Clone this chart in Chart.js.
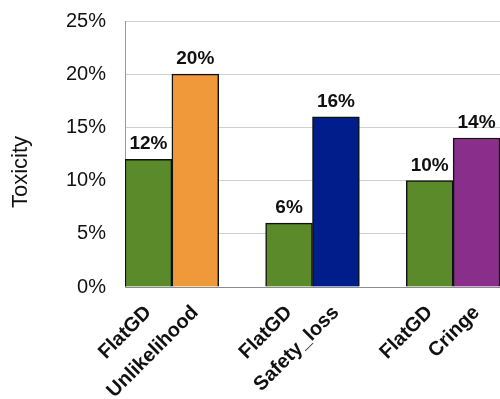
<!DOCTYPE html>
<html>
<head>
<meta charset="utf-8">
<script src="https://cdn.jsdelivr.net/npm/chart.js@4"></script>
<style>
  html, body { margin: 0; padding: 0; background: #fff; }
</style>
</head>
<body>
<canvas id="chart" width="500" height="399"></canvas>
<script>
// bar chart data (percent)
const categories = ['FlatGD', 'Unlikelihood', '', 'FlatGD', 'Safety_loss', '', 'FlatGD', 'Cringe'];
const toxicity = [12, 20, null, 6, 16, null, 10, 14];
const yTicks = [0, 5, 10, 15, 20, 25];
const barColors = ['#5b8a2b', '#f0993a', '#ffffff', '#5b8a2b', '#001d8c', '#ffffff', '#5b8a2b', '#892f8b'];

const FONT = '"Liberation Sans", Arial, sans-serif';

// numbers above the bars
const valueLabels = {
    id: 'valueLabels',
    afterDatasetsDraw(chart) {
        const ctx = chart.ctx;
        const meta = chart.getDatasetMeta(0);
        ctx.save();
        ctx.font = 'bold 19px ' + FONT;
        ctx.fillStyle = '#111';
        ctx.textAlign = 'center';
        ctx.textBaseline = 'alphabetic';
        meta.data.forEach((bar, i) => {
            if (toxicity[i] == null) return;
            ctx.fillText(toxicity[i] + '%', bar.x, bar.y - 10);
        });
        ctx.restore();
    }
};

// y title sits a bit lower than the axis middle in the original
const yTitle = {
    id: 'yTitle',
    afterDraw(chart) {
        const ctx = chart.ctx;
        ctx.save();
        ctx.translate(21, chart.chartArea.top + 151);
        ctx.rotate(-Math.PI / 2);
        ctx.font = '22px ' + FONT;
        ctx.fillStyle = '#111';
        ctx.textAlign = 'center';
        ctx.textBaseline = 'middle';
        ctx.fillText('Toxicity', 0, 0);
        ctx.restore();
    }
};

new Chart(document.getElementById('chart'), {
    type: 'bar',
    data: {
        labels: categories,
        datasets: [{
            data: toxicity,
            backgroundColor: barColors,
            borderColor: '#111',
            borderWidth: 1.5,
            categoryPercentage: 1,
            barPercentage: 1
        }]
    },
    options: {
        responsive: false,
        animation: false,
        layout: { padding: { top: 21, right: 0, bottom: 0, left: 0 } },
        plugins: { legend: { display: false }, tooltip: { enabled: false } },
        scales: {
            x: {
                grid: { display: false, drawTicks: false },
                border: { color: '#8c8c8c', width: 1 },
                ticks: {
                    autoSkip: false, maxRotation: 45, minRotation: 45, padding: 14,
                    color: '#111', font: { family: FONT, size: 20, weight: 'bold' }
                },
                afterFit(axis) { axis.height = 112; axis.paddingLeft = 0; axis.paddingRight = 0; }
            },
            y: {
                min: 0, max: 25,
                afterBuildTicks(axis) { axis.ticks = yTicks.map(v => ({ value: v })); },
                grid: { color: '#d0d0d0', drawTicks: false },
                border: { color: '#999999', width: 1 },
                ticks: {
                    padding: 19, color: '#111',
                    font: { family: FONT, size: 20 },
                    callback: v => v + '%'
                },
                afterFit(axis) { axis.width = 125; axis.paddingTop = 0; axis.paddingBottom = 0; }
            }
        }
    },
    plugins: [valueLabels, yTitle]
});
</script>
</body>
</html>
